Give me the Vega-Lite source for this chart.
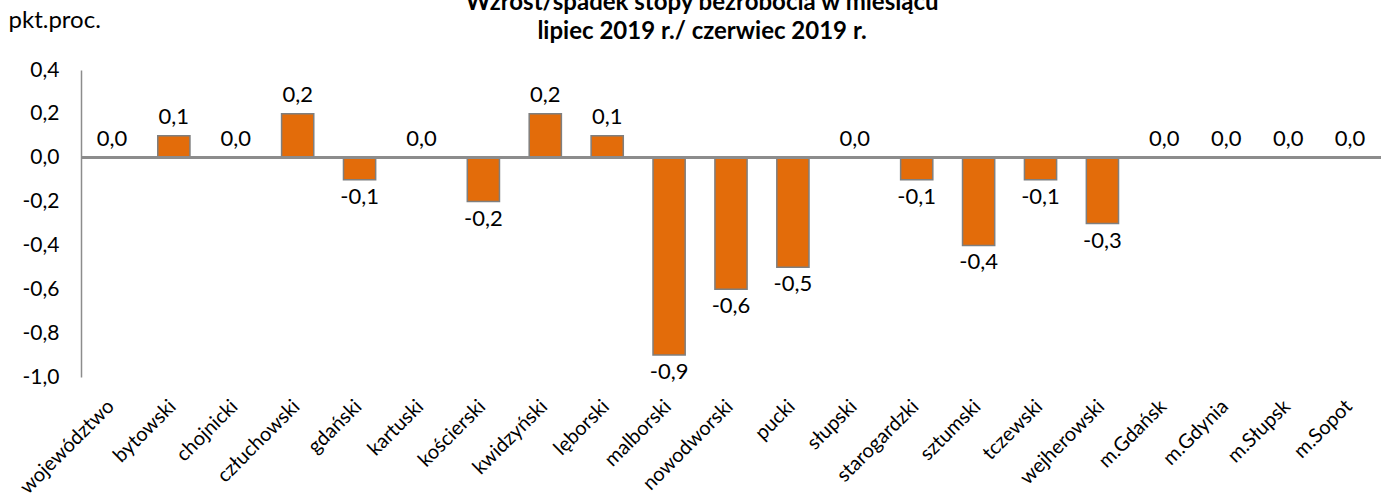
{
  "$schema": "https://vega.github.io/schema/vega-lite/v6.json",
  "width": 1300,
  "height": 307,
  "autosize": "none",
  "padding": {"left": 81, "top": 70, "right": 0, "bottom": 125},
  "background": "white",
  "config": {
    "locale": {"number": {"decimal": ",", "thousands": " ", "grouping": [3], "currency": ["", " zł"], "minus": "-"}},
    "view": {"stroke": null},
    "font": "Lato"
  },
  "title": {
    "text": ["Wzrost/spadek stopy bezrobocia w miesiącu", "lipiec 2019 r./ czerwiec 2019 r."],
    "anchor": "middle",
    "frame": "group",
    "font": "Lato",
    "fontSize": 24,
    "fontWeight": "bold",
    "color": "#000000",
    "lineHeight": 29,
    "dx": -29,
    "dy": 36,
    "offset": 0
  },
  "data": {
    "values": [
      {"k": "województwo", "v": 0.0},
      {"k": "bytowski", "v": 0.1},
      {"k": "chojnicki", "v": 0.0},
      {"k": "człuchowski", "v": 0.2},
      {"k": "gdański", "v": -0.1},
      {"k": "kartuski", "v": 0.0},
      {"k": "kościerski", "v": -0.2},
      {"k": "kwidzyński", "v": 0.2},
      {"k": "lęborski", "v": 0.1},
      {"k": "malborski", "v": -0.9},
      {"k": "nowodworski", "v": -0.6},
      {"k": "pucki", "v": -0.5},
      {"k": "słupski", "v": 0.0},
      {"k": "starogardzki", "v": -0.1},
      {"k": "sztumski", "v": -0.4},
      {"k": "tczewski", "v": -0.1},
      {"k": "wejherowski", "v": -0.3},
      {"k": "m.Gdańsk", "v": 0.0},
      {"k": "m.Gdynia", "v": 0.0},
      {"k": "m.Słupsk", "v": 0.0},
      {"k": "m.Sopot", "v": 0.0}
    ]
  },
  "encoding": {
    "x": {
      "field": "k", "type": "nominal", "sort": null,
      "scale": {"paddingInner": 0.48, "paddingOuter": 0.24},
      "axis": {
        "title": null, "domain": false, "ticks": false,
        "labelAngle": -45, "labelAlign": "right", "labelBaseline": "middle",
        "labelFontSize": 20, "labelColor": "#000000", "labelFont": "Lato",
        "labelPadding": 26, "labelOffset": -1, "labelOverlap": false, "labelLimit": 0
      }
    },
    "y": {
      "field": "v", "type": "quantitative",
      "scale": {"domain": [-1.0, 0.4], "nice": false},
      "axis": {
        "values": [-1.0, -0.8, -0.6, -0.4, -0.2, 0.0, 0.2, 0.4],
        "format": ".1f", "grid": false, "ticks": false,
        "domainColor": "#8C8C8C", "domainWidth": 1.5,
        "labelFontSize": 21, "labelColor": "#000000", "labelFont": "Lato",
        "labelPadding": 22,
        "title": "pkt.proc.", "titleAngle": 0, "titleAlign": "left", "titleBaseline": "alphabetic",
        "titleX": -73, "titleY": -43, "titleFontSize": 24, "titleFontWeight": "normal",
        "titleColor": "#000000", "titleFont": "Lato"
      }
    }
  },
  "layer": [
    {
      "mark": {"type": "bar", "color": "#E36C0A", "stroke": "#7F7F7F", "strokeWidth": 1.5}
    },
    {
      "mark": {"type": "rule", "color": "#8C8C8C", "strokeWidth": 2},
      "encoding": {"y": {"datum": 0}, "x": null}
    },
    {
      "transform": [{"filter": "datum.v >= 0"}],
      "mark": {"type": "text", "baseline": "alphabetic", "dy": -12, "fontSize": 22, "color": "#000000", "font": "Lato"},
      "encoding": {"text": {"field": "v", "type": "quantitative", "format": ".1f"}}
    },
    {
      "transform": [{"filter": "datum.v < 0"}],
      "mark": {"type": "text", "baseline": "top", "dy": 7, "fontSize": 22, "color": "#000000", "font": "Lato"},
      "encoding": {"text": {"field": "v", "type": "quantitative", "format": ".1f"}}
    }
  ]
}
